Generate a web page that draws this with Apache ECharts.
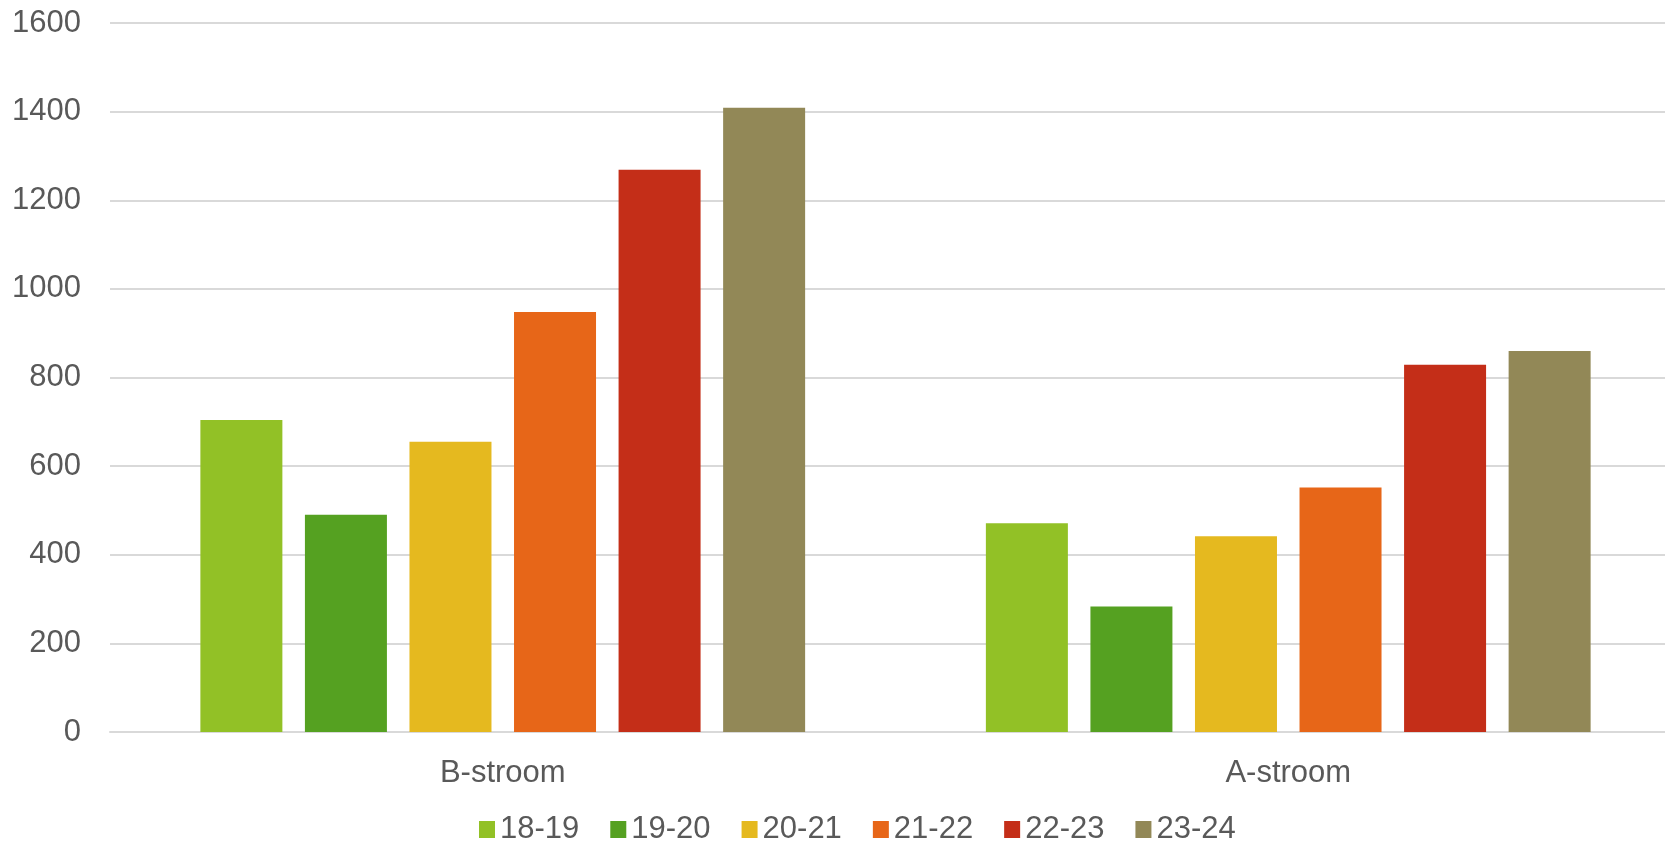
<!DOCTYPE html>
<html>
<head>
<meta charset="utf-8">
<script src="https://cdn.jsdelivr.net/npm/echarts@6/dist/echarts.min.js"></script>
<style>
  html, body { margin: 0; padding: 0; background: #fff; overflow: hidden; }
  /* the plot area runs slightly past the right edge of the picture */
  #chart { width: 1681px; height: 848px; }
</style>
</head>
<body>
<div id="chart"></div>
<script>
// categories and seasons
const categories = ['B-stroom', 'A-stroom'];
const seasons = ['18-19', '19-20', '20-21', '21-22', '22-23', '23-24'];
const colors = ['#92C126', '#55A121', '#E5B91F', '#E76618', '#C42E18', '#928857'];

// values per season: [B-stroom, A-stroom]
const v1819 = [704, 471];
const v1920 = [490, 283];
const v2021 = [655, 442];
const v2122 = [948, 552];
const v2223 = [1269, 829];
const v2324 = [1409, 860];
const values = [v1819, v1920, v2021, v2122, v2223, v2324];

const yTicks = { min: 0, max: 1600, interval: 200 };

const font = 'Liberation Sans';
const textColor = '#595959';

var mychart = echarts.init(document.getElementById('chart'));
const option = {
  animation: false,
  textStyle: { fontFamily: font },
  legend: {
    left: 474,
    top: 809,
    itemWidth: 16,
    itemHeight: 17,
    itemGap: 31,
    icon: 'rect',
    textStyle: { fontSize: 31, color: textColor, fontFamily: font },
    data: seasons
  },
  grid: { left: 110, top: 23, right: 0, bottom: 116, containLabel: false },
  xAxis: {
    type: 'category',
    data: categories,
    axisLine: { lineStyle: { color: '#d9d9d9', width: 2 } },
    axisTick: { show: false },
    axisLabel: { fontSize: 31, color: textColor, margin: 26, fontFamily: font }
  },
  yAxis: {
    type: 'value',
    min: yTicks.min,
    max: yTicks.max,
    interval: yTicks.interval,
    axisLine: { show: false },
    axisTick: { show: false },
    axisLabel: { fontSize: 31, color: textColor, margin: 29, fontFamily: font,
                 formatter: v => String(v) },
    splitLine: { lineStyle: { color: '#d9d9d9', width: 2 } }
  },
  series: seasons.map((s, i) => ({
    name: s,
    type: 'bar',
    data: values[i],
    barWidth: 82,
    barGap: '27.5%',
    itemStyle: { color: colors[i] }
  }))
};
mychart.setOption(option);
</script>
</body>
</html>
